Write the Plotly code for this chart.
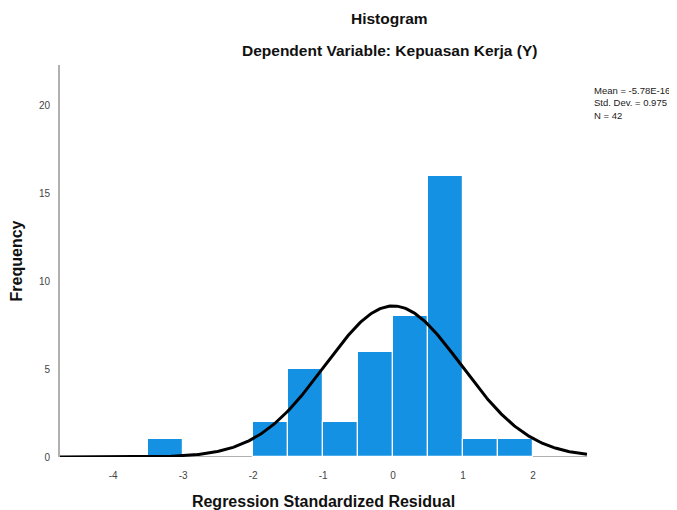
import numpy as np
import plotly.graph_objects as go

bin_centers = [-3.25, -1.75, -1.25, -0.75, -0.25, 0.25, 0.75, 1.25, 1.75]
counts = [1, 2, 5, 2, 6, 8, 16, 1, 1]
bin_width = 0.5
mean_val = -5.78e-16
std_val = 0.975
n_obs = 42
x_ticks = [-4, -3, -2, -1, 0, 1, 2]
x_tick_labels = ["-4", "-3", "-2", "-1", "0", "1", "2"]
y_ticks = [0, 5, 10, 15, 20]
y_tick_labels = ["0", "5", "10", "15", "20"]

xs = np.linspace(-4.76, 2.77, 400)
ys = n_obs * bin_width / (std_val * np.sqrt(2 * np.pi)) * np.exp(-0.5 * ((xs - mean_val) / std_val) ** 2)

fig = go.Figure()
fig.add_trace(go.Bar(x=bin_centers, y=counts, width=bin_width,
                     marker=dict(color="#1591E3", line=dict(color="white", width=1.2)),
                     hoverinfo="skip"))
fig.add_trace(go.Scatter(x=xs, y=ys, mode="lines", line=dict(color="black", width=3),
                         hoverinfo="skip"))

font_family = "Liberation Sans, Arial, sans-serif"
fig.update_layout(
    width=669, height=502,
    margin=dict(l=52, r=90, t=57, b=53),
    plot_bgcolor="white", paper_bgcolor="white",
    showlegend=False,
    font=dict(family=font_family, color="#333333", size=10),
    xaxis=dict(range=[-4.76, 2.77], tickvals=x_ticks, ticktext=x_tick_labels,
               showgrid=False, zeroline=False, automargin=False,
               showline=False, ticks="", ticklabelstandoff=11,
               tickfont=dict(size=10, color="#444444"),
               title=dict(text="<b>Regression Standardized Residual</b>",
                          font=dict(size=16, color="#111111"), standoff=16)),
    yaxis=dict(range=[0, 22.3], tickvals=y_ticks, ticktext=y_tick_labels,
               showgrid=False, zeroline=False, automargin=False,
               showline=True, linecolor="#b0b0b0", linewidth=2, ticks="",
               ticklabelstandoff=6,
               tickfont=dict(size=10, color="#444444"),
               title=dict(text="<b>Frequency</b>", font=dict(size=16, color="#111111"),
                          standoff=16)),
    bargap=0,
)
# baseline
fig.add_shape(type="line", xref="paper", yref="y", x0=0, x1=1, y0=0, y1=0,
              line=dict(color="#b0b0b0", width=2), layer="below")
fig.add_annotation(text="<b>Histogram</b>", xref="paper", yref="paper", x=0.626, y=1.0,
                   yanchor="middle", yshift=47, showarrow=False,
                   font=dict(size=15.5, color="#111111"))
fig.add_annotation(text="<b>Dependent Variable: Kepuasan Kerja (Y)</b>", xref="paper", yref="paper",
                   x=0.626, y=1.0, yanchor="middle", yshift=15, showarrow=False,
                   font=dict(size=15.5, color="#111111"))
fig.add_annotation(text=f"Mean = -5.78E-16<br>Std. Dev. = {std_val}<br>N = {n_obs}",
                   xref="paper", yref="paper", x=1.0, xshift=5, y=0.955, xanchor="left",
                   yanchor="top", align="left", showarrow=False,
                   font=dict(size=9.5, color="#222222"))

fig.write_html("out.html")
